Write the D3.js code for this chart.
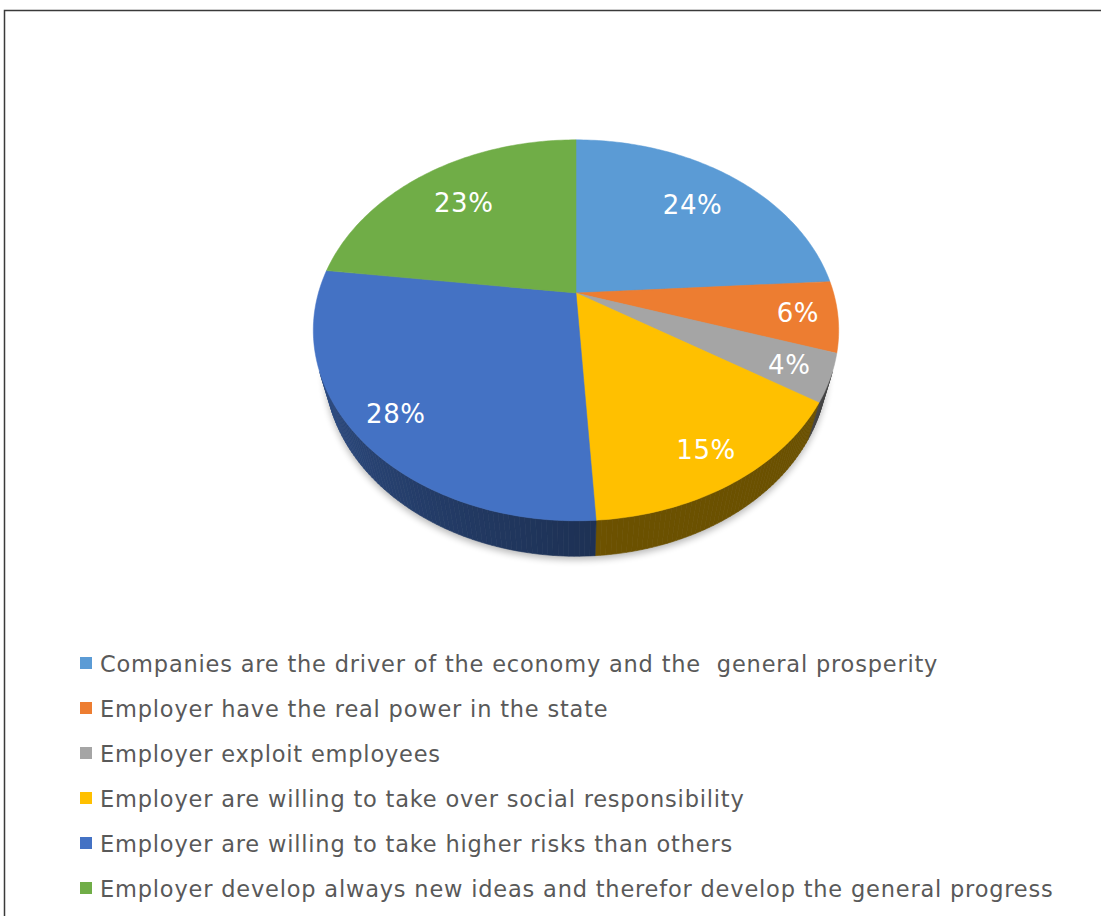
<!DOCTYPE html>
<html>
<head>
<meta charset="utf-8">
<script src="https://cdn.jsdelivr.net/npm/d3@7"></script>
<style>
  html, body { margin: 0; padding: 0; background: #ffffff; }
  svg { display: block; }
</style>
</head>
<body>
<svg id="chart" width="1101" height="916"></svg>
<script>
// Survey answers about employers, shown as a tilted 3D pie.
const categories = [
  "Companies are the driver of the economy and the  general prosperity",
  "Employer have the real power in the state",
  "Employer exploit employees",
  "Employer are willing to take over social responsibility",
  "Employer are willing to take higher risks than others",
  "Employer develop always new ideas and therefor develop the general progress"
];
const values = [24, 6, 4, 15, 28, 23];
const colors = ["#5B9BD5", "#ED7D31", "#A5A5A5", "#FFC000", "#4472C4", "#70AD47"];

const svg = d3.select("#chart");
const W = 1101, H = 916;

svg.append("rect").attr("width", W).attr("height", H).attr("fill", "#ffffff");
// chart frame
svg.append("rect")
  .attr("x", 4.5).attr("y", 10.5).attr("width", 1300).attr("height", 1000)
  .attr("fill", "none").attr("stroke", "#3a3a3a").attr("stroke-width", 1.5);

// --- perspective camera for the tilted disc ---
const cam = {
  cx: 576, cy: 293,       // screen position of the disc centre
  D: 1,                   // camera distance
  R: 0.2785,              // disc radius
  t: 0.0615,              // disc thickness
  e: Math.asin(0.711),    // elevation angle
  f: 925                  // focal scale
};
function project(theta, r, y) {
  const X = r * Math.sin(theta), Z = r * Math.cos(theta), Y = y;
  const u = Y * Math.cos(cam.e) + Z * Math.sin(cam.e);
  const d = cam.D + Z * Math.cos(cam.e) - Y * Math.sin(cam.e);
  return [cam.cx + cam.f * X / d, cam.cy - cam.f * u / d];
}

const pie = d3.pie().sort(null).value(d => d).startAngle(0).endAngle(2 * Math.PI);
const arcs = pie(values);
const line = d3.line();

// the outer wall faces the camera where cos(theta) < -R / (D cos e)
const limit = Math.acos(-cam.R / (cam.D * Math.cos(cam.e)));
const visLo = limit, visHi = 2 * Math.PI - limit;

const defs = svg.append("defs");
defs.append("filter").attr("id", "shadowBlur")
  .attr("x", "-20%").attr("y", "-20%").attr("width", "140%").attr("height", "140%")
  .append("feGaussianBlur").attr("stdDeviation", 3.5);

// soft drop shadow under the disc
const shadowPts = d3.range(0, 361, 2).map(a => project(a * Math.PI / 180, cam.R * 1.005, -cam.t - 0.004));
svg.append("path")
  .attr("d", line(shadowPts) + "Z")
  .attr("fill", "#000").attr("opacity", 0.28)
  .attr("filter", "url(#shadowBlur)");

// --- walls ---
const wallG = svg.append("g");
function wallShade(theta) {
  // darker towards the front, a little lighter on the left flank
  const deg = theta * 180 / Math.PI;
  const k = Math.max(0, Math.min(1, (deg - 172) / 75));
  return 0.42 + 0.24 * Math.pow(k, 1.1);
}
arcs.forEach((a, i) => {
  const lo = Math.max(a.startAngle, visLo), hi = Math.min(a.endAngle, visHi);
  if (hi <= lo) return;
  const n = Math.max(2, Math.ceil((hi - lo) / (Math.PI / 180)));
  const step = (hi - lo) / n;
  const base = d3.color(colors[i]);
  for (let s = 0; s < n; s++) {
    const t0 = lo + s * step, t1 = Math.min(hi, t0 + step);
    const pts = [
      project(t0, cam.R, 0), project(t1, cam.R, 0),
      project(t1, cam.R, -cam.t), project(t0, cam.R, -cam.t)
    ];
    const k = wallShade((t0 + t1) / 2);
    const c = d3.rgb(base.r * k, base.g * k, base.b * k);
    wallG.append("path")
      .attr("d", line(pts) + "Z")
      .attr("fill", c).attr("stroke", c).attr("stroke-width", 0.6);
  }
});

// --- top faces ---
const topG = svg.append("g");
arcs.forEach((a, i) => {
  const n = Math.max(4, Math.ceil((a.endAngle - a.startAngle) / (Math.PI / 180)));
  const pts = [project(0, 0, 0)];
  for (let s = 0; s <= n; s++) {
    const th = a.startAngle + (a.endAngle - a.startAngle) * s / n;
    pts.push(project(th, cam.R, 0));
  }
  topG.append("path")
    .attr("d", line(pts) + "Z")
    .attr("fill", colors[i]).attr("stroke", colors[i]).attr("stroke-width", 0.5)
    .attr("stroke-linejoin", "round");
});

// --- percentage labels ---
svg.append("g").selectAll("text")
  .data(arcs)
  .join("text")
  .attr("transform", a => {
    const mid = (a.startAngle + a.endAngle) / 2;
    const frac = Math.cos(mid) < 0 ? 0.85 : 0.73;
    const p = project(mid, cam.R * frac, 0);
    return `translate(${p[0]},${p[1]})`;
  })
  .attr("text-anchor", "middle")
  .attr("dy", "0.36em")
  .attr("font-family", "'DejaVu Sans', Verdana, sans-serif")
  .attr("font-size", 26)
  .attr("letter-spacing", 0.6)
  .attr("fill", "#ffffff")
  .text(a => a.data + "%");

// --- legend ---
const legend = svg.append("g").attr("transform", "translate(80,0)");
const rowY = d3.scalePoint().domain(d3.range(categories.length)).range([672, 897]);
const lg = legend.selectAll("g").data(categories).join("g")
  .attr("transform", (d, i) => `translate(0,${rowY(i)})`);
lg.append("rect")
  .attr("x", 0).attr("y", -15).attr("width", 12).attr("height", 12)
  .attr("fill", (d, i) => colors[i]);
lg.append("text")
  .attr("x", 20).attr("y", 0)
  .attr("font-family", "'DejaVu Sans', Verdana, sans-serif")
  .attr("font-size", 22.5)
  .attr("letter-spacing", 0.8)
  .attr("fill", "#595959")
  .style("white-space", "pre")
  .text(d => d);
</script>
</body>
</html>
